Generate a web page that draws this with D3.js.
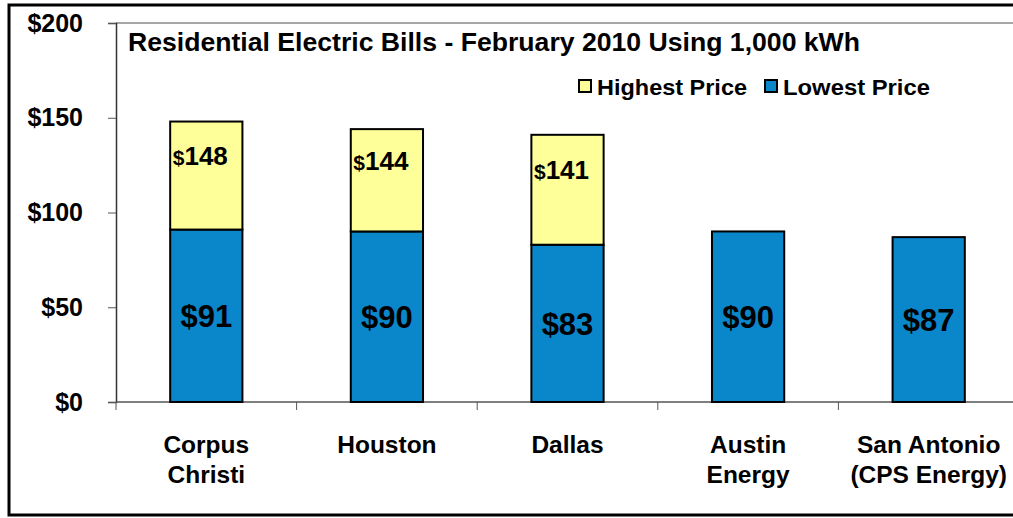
<!DOCTYPE html>
<html>
<head>
<meta charset="utf-8">
<script src="https://cdn.jsdelivr.net/npm/d3@7"></script>
<style>
  body { margin: 0; background: #fff; }
  text { font-family: "Liberation Sans", Arial, sans-serif; font-weight: bold; fill: #000; }
</style>
</head>
<body>
<div id="chart"></div>
<script>
// chart data
var cities = ["Corpus Christi", "Houston", "Dallas", "Austin Energy", "San Antonio (CPS Energy)"];
var cityLines = [["Corpus", "Christi"], ["Houston"], ["Dallas"], ["Austin", "Energy"], ["San Antonio", "(CPS Energy)"]];
var lowest = [91, 90, 83, 90, 87];
var highest = [148, 144, 141, null, null];
var yTicks = [0, 50, 100, 150, 200];
var title = "Residential Electric Bills - February 2010 Using 1,000 kWh";
var legendKeys = ["Highest Price", "Lowest Price"];

var W = 1013, H = 518;
var blue = "#0a86cb", yellow = "#ffff99";

var svg = d3.select("#chart").append("svg")
    .attr("width", W)
    .attr("height", H);

// outer frame
svg.append("rect")
    .attr("x", 9).attr("y", 5)
    .attr("width", 1020).attr("height", 510)
    .attr("fill", "none")
    .attr("stroke", "#000")
    .attr("stroke-width", 3);

var x = d3.scaleBand()
    .domain(cities)
    .range([116, 1019])
    .paddingInner(0.6)
    .paddingOuter(0.3);

var y = d3.scaleLinear()
    .domain([0, 200])
    .range([402, 23]);

// top border of plot area
svg.append("line")
    .attr("x1", 116).attr("x2", W)
    .attr("y1", y(200)).attr("y2", y(200))
    .attr("stroke", "#888")
    .attr("stroke-width", 1.5);

// y axis
var yAxis = svg.append("g")
    .attr("transform", "translate(116,0)")
    .call(d3.axisLeft(y).tickValues(yTicks).tickSize(8).tickFormat(function (d) { return "$" + d; }));
yAxis.select(".domain").attr("stroke", "#333").attr("stroke-width", 1.5);
yAxis.selectAll(".tick line").attr("stroke", "#555");
yAxis.selectAll(".tick text")
    .attr("x", -33)
    .attr("font-size", 25)
    .attr("font-family", "Liberation Sans, Arial, sans-serif");

// x axis: ticks at band boundaries
var bounds = cities.map(function (c) { return x(c) - x.step() * x.paddingInner() / 2 - (c === cities[0] ? x.step() * (x.paddingOuter() - x.paddingInner() / 2) : 0); });
svg.append("line")
    .attr("x1", 116).attr("x2", W)
    .attr("y1", y(0)).attr("y2", y(0))
    .attr("stroke", "#555")
    .attr("stroke-width", 1.5);
svg.selectAll(".xtick")
    .data(bounds)
    .enter()
    .append("line")
    .attr("class", "xtick")
    .attr("x1", function (d) { return d; })
    .attr("x2", function (d) { return d; })
    .attr("y1", y(0))
    .attr("y2", y(0) + 8)
    .attr("stroke", "#555");

// category labels
var xl = svg.selectAll(".xlabel")
    .data(cities)
    .enter()
    .append("text")
    .attr("class", "xlabel")
    .attr("text-anchor", "middle")
    .attr("font-size", 24.5)
    .attr("x", function (d) { return x(d) + x.bandwidth() / 2; })
    .attr("y", 453);
xl.selectAll("tspan")
    .data(function (d, i) { return cityLines[i]; })
    .enter()
    .append("tspan")
    .attr("x", function () { var p = this.parentNode; return p.getAttribute("x"); })
    .attr("dy", function (d, i) { return i === 0 ? 0 : 30; })
    .text(function (d) { return d; });

// lowest bars
svg.selectAll(".low")
    .data(cities)
    .enter()
    .append("rect")
    .attr("class", "low")
    .attr("x", function (d) { return x(d); })
    .attr("width", x.bandwidth())
    .attr("y", function (d, i) { return y(lowest[i]); })
    .attr("height", function (d, i) { return y(0) - y(lowest[i]); })
    .attr("fill", blue)
    .attr("stroke", "#000")
    .attr("stroke-width", 2);

// highest bars (stacked on top of lowest)
svg.selectAll(".high")
    .data(cities.filter(function (d, i) { return highest[i] != null; }))
    .enter()
    .append("rect")
    .attr("class", "high")
    .attr("x", function (d) { return x(d); })
    .attr("width", x.bandwidth())
    .attr("y", function (d) { return y(highest[cities.indexOf(d)]); })
    .attr("height", function (d) { var i = cities.indexOf(d); return y(lowest[i]) - y(highest[i]); })
    .attr("fill", yellow)
    .attr("stroke", "#000")
    .attr("stroke-width", 2);

// value labels
svg.selectAll(".lowlab")
    .data(cities)
    .enter()
    .append("text")
    .attr("class", "lowlab")
    .attr("text-anchor", "middle")
    .attr("font-size", 31)
    .attr("x", function (d) { return x(d) + x.bandwidth() / 2; })
    .attr("y", function (d, i) { return (y(0) + y(lowest[i])) / 2; })
    .attr("dy", "0.36em")
    .text(function (d, i) { return "$" + lowest[i]; });

var hl = svg.selectAll(".highlab")
    .data(cities.filter(function (d, i) { return highest[i] != null; }))
    .enter()
    .append("text")
    .attr("class", "highlab")
    .attr("text-anchor", "middle")
    .attr("font-size", 26)
    .attr("x", function (d) { return x(d) + x.bandwidth() / 2 - 6; })
    .attr("y", function (d) { var i = cities.indexOf(d); return (y(lowest[i]) + y(highest[i])) / 2 - 20; })
    .attr("dy", "0.36em");
hl.append("tspan").attr("font-size", 21).text("$");
hl.append("tspan").text(function (d) { return highest[cities.indexOf(d)]; });

// title
svg.append("text")
    .attr("x", 128)
    .attr("y", 51)
    .attr("font-size", 25)
    .attr("textLength", 732)
    .attr("lengthAdjust", "spacingAndGlyphs")
    .text(title);

// legend
var legX = [579, 765], legFill = [yellow, blue], legLen = [150, 147];
var leg = svg.selectAll(".leg")
    .data(legendKeys)
    .enter()
    .append("g")
    .attr("class", "leg")
    .attr("transform", function (d, i) { return "translate(" + legX[i] + ",80)"; });
leg.append("rect")
    .attr("width", 12).attr("height", 12)
    .attr("fill", function (d, i) { return legFill[i]; })
    .attr("stroke", "#000")
    .attr("stroke-width", 2);
leg.append("text")
    .attr("x", 18)
    .attr("y", 15)
    .attr("font-size", 22.5)
    .attr("textLength", function (d, i) { return legLen[i]; })
    .attr("lengthAdjust", "spacingAndGlyphs")
    .text(function (d) { return d; });
</script>
</body>
</html>
